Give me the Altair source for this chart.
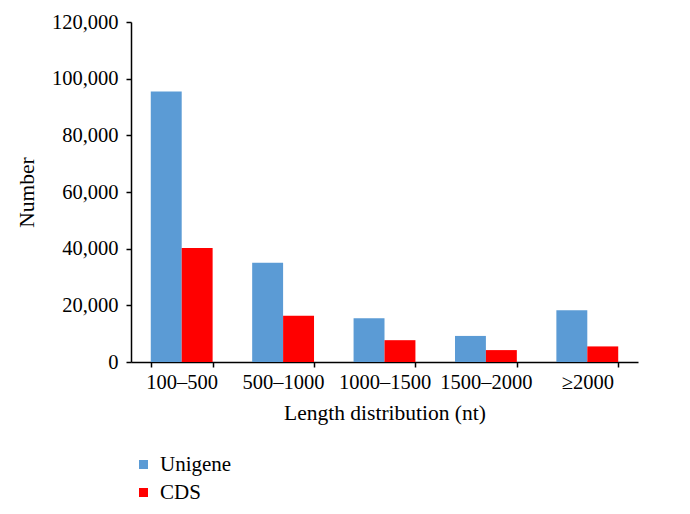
import altair as alt
import pandas as pd

categories = ["100–500", "500–1000", "1000–1500", "1500–2000", "≥2000"]
series = ["Unigene", "CDS"]
unigene = [95500, 35000, 15400, 9200, 18300]
cds = [40200, 16300, 7700, 4200, 5500]

rows = []
for c, u, d in zip(categories, unigene, cds):
    rows.append({"cat": c, "series": "Unigene", "value": u})
    rows.append({"cat": c, "series": "CDS", "value": d})
df = pd.DataFrame(rows)

FONT = "Liberation Serif"

chart = alt.Chart(df).mark_bar().encode(
    x=alt.X("cat:N", sort=categories,
            scale=alt.Scale(paddingInner=0.39, paddingOuter=0.195),
            axis=alt.Axis(title="Length distribution (nt)", labelAngle=0,
                          tickBand="extent", tickSize=5, labelPadding=5,
                          titlePadding=10)),
    xOffset=alt.XOffset("series:N", sort=series, scale=alt.Scale(paddingInner=0, paddingOuter=0)),
    y=alt.Y("value:Q", scale=alt.Scale(domain=[0, 120000]),
            axis=alt.Axis(title="Number", values=[0, 20000, 40000, 60000, 80000, 100000, 120000],
                          format=",.0f", tickSize=5, labelPadding=8, titlePadding=13, grid=False)),
    color=alt.Color("series:N", sort=series,
                    scale=alt.Scale(domain=series, range=["#5B9BD5", "#FF0000"]),
                    legend=alt.Legend(title=None, orient="none", legendX=2, legendY=432,
                                      symbolType="square", symbolSize=81, symbolStrokeWidth=0,
                                      labelFontSize=21, labelFont=FONT, rowPadding=6,
                                      labelColor="black", labelOffset=6)),
).properties(
    width=507, height=340,
    autosize=alt.AutoSizeParams(type="none"),
    padding={"left": 123, "top": 14, "right": 40, "bottom": 150},
).configure_view(stroke=None).configure_axis(
    labelFont=FONT, titleFont=FONT, labelFontSize=20.5, titleFontSize=21.5,
    labelColor="black", titleColor="black", titleFontWeight="normal",
    domainColor="black", tickColor="black", domainWidth=1.5, tickWidth=1.5,
)

chart.save("out.html", embed_options={"renderer": "svg", "actions": False})
